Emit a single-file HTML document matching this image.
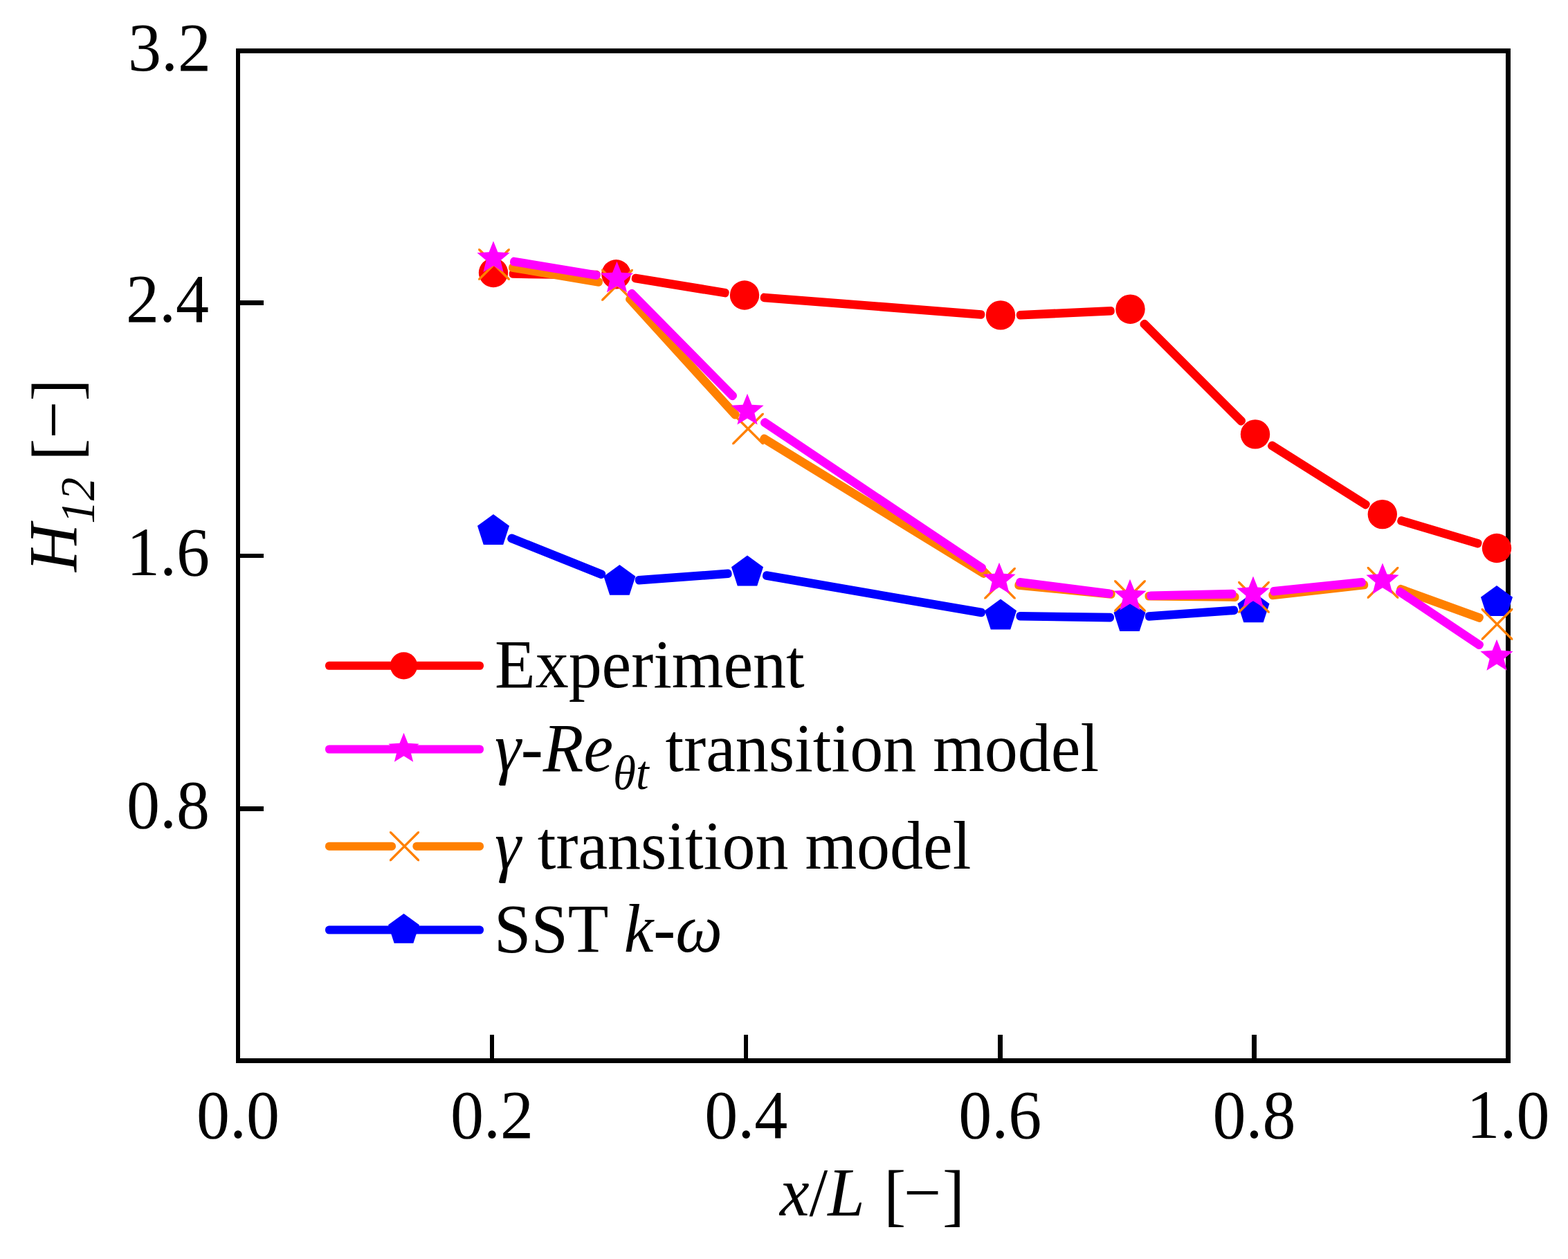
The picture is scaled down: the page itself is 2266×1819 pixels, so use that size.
<!DOCTYPE html>
<html><head><meta charset="utf-8"><title>H12 vs x/L</title>
<style>html,body{margin:0;padding:0;background:#fff;width:2266px;height:1819px;overflow:hidden}svg{display:block}</style>
</head><body>
<svg width="2266" height="1819" viewBox="0 0 2266 1819"><defs><clipPath id="c0"><rect x="691.2" y="359.2" width="45.6" height="45.6"/></clipPath><clipPath id="c1"><rect x="869.2" y="389.1" width="45.6" height="45.6"/></clipPath><clipPath id="c2"><rect x="1058.2" y="596.7" width="45.6" height="45.6"/></clipPath><clipPath id="c3"><rect x="1422.2" y="820" width="45.6" height="45.6"/></clipPath><clipPath id="c4"><rect x="1610.2" y="838.2" width="45.6" height="45.6"/></clipPath><clipPath id="c5"><rect x="1789.2" y="840.1" width="45.6" height="45.6"/></clipPath><clipPath id="c6"><rect x="1975.7" y="819.1" width="45.6" height="45.6"/></clipPath><clipPath id="c7"><rect x="2140.7" y="879.1" width="45.6" height="45.6"/></clipPath><clipPath id="c8"><rect x="563" y="1201.2" width="43" height="43"/></clipPath></defs><rect width="2266" height="1819" fill="#fff"/><g fill="#000" shape-rendering="crispEdges"><rect x="341" y="70" width="6" height="1466"/><rect x="341" y="70" width="1842" height="7"/><rect x="2176" y="70" width="7" height="1466"/><rect x="341" y="1529" width="1842" height="7"/><rect x="708" y="1495" width="6" height="34"/><rect x="1075" y="1495" width="6" height="34"/><rect x="1442" y="1495" width="7" height="34"/><rect x="1809" y="1495" width="7" height="34"/><rect x="347" y="434" width="34" height="7"/><rect x="347" y="800" width="34" height="6"/><rect x="347" y="1165" width="34" height="7"/></g><g fill="#ff0000"><rect x="0" y="-6.3" width="131.81" height="12.6" rx="5.5" transform="translate(735.8 395.5) rotate(0.74)"/><rect x="0" y="-6.3" width="142.44" height="12.6" rx="5.5" transform="translate(912.9 401.16) rotate(9.24)"/><rect x="0" y="-6.3" width="325.53" height="12.6" rx="5.5" transform="translate(1098.73 429.48) rotate(4.47)"/><rect x="0" y="-6.3" width="142.1" height="12.6" rx="5.5" transform="translate(1468.78 455.54) rotate(-2.66)"/><rect x="0" y="-6.3" width="209.81" height="12.6" rx="5.5" transform="translate(1649.61 464.03) rotate(45.03)"/><rect x="0" y="-6.3" width="171.58" height="12.6" rx="5.5" transform="translate(1833.3 640.75) rotate(32.19)"/><rect x="0" y="-6.3" width="126.69" height="12.6" rx="5.5" transform="translate(2019.66 750.77) rotate(16.49)"/></g><g fill="#ff0000"><circle cx="713" cy="394" r="21.2"/><circle cx="890.4" cy="396.3" r="21.2"/><circle cx="1076" cy="426.5" r="21.2"/><circle cx="1446" cy="455.4" r="21.2"/><circle cx="1633.5" cy="446.7" r="21.2"/><circle cx="1814" cy="627.4" r="21.2"/><circle cx="1997.8" cy="743.1" r="21.2"/><circle cx="2163" cy="792" r="21.2"/></g><g fill="#0000ff"><rect x="0" y="-6.3" width="151.43" height="12.6" rx="5.5" transform="translate(733.89 775.65) rotate(21.79)"/><rect x="0" y="-6.3" width="140.09" height="12.6" rx="5.5" transform="translate(917.84 838.57) rotate(-4.15)"/><rect x="0" y="-6.3" width="326.38" height="12.6" rx="5.5" transform="translate(1102.17 830.62) rotate(9.77)"/><rect x="0" y="-6.3" width="141.52" height="12.6" rx="5.5" transform="translate(1468.5 890.13) rotate(0.83)"/><rect x="0" y="-6.3" width="134.46" height="12.6" rx="5.5" transform="translate(1654.94 890.9) rotate(-4.09)"/></g><path fill="#0000ff" d="M713,743.1 L736.02,759.82 L727.22,786.88 L698.78,786.88 L689.98,759.82ZM895.4,816 L918.42,832.72 L909.62,859.78 L881.18,859.78 L872.38,832.72ZM1080,802.6 L1103.02,819.32 L1094.22,846.38 L1065.78,846.38 L1056.98,819.32ZM1446,865.6 L1469.02,882.32 L1460.22,909.38 L1431.78,909.38 L1422.98,882.32ZM1632.5,868.3 L1655.52,885.02 L1646.72,912.08 L1618.28,912.08 L1609.48,885.02ZM1811.5,855.5 L1834.52,872.22 L1825.72,899.28 L1797.28,899.28 L1788.48,872.22ZM2163,846.1 L2186.02,862.82 L2177.22,889.88 L2148.78,889.88 L2139.98,862.82Z"/><g fill="#ff8000"><rect x="0" y="-6.3" width="137.49" height="12.6" rx="5.5" transform="translate(735.2 385.56) rotate(9.54)"/><rect x="0" y="-6.3" width="237.75" height="12.6" rx="5.5" transform="translate(906.47 427.8) rotate(47.69)"/><rect x="0" y="-6.3" width="384.03" height="12.6" rx="5.5" transform="translate(1099.33 630.74) rotate(31.53)"/><rect x="0" y="-6.3" width="145.88" height="12.6" rx="5.5" transform="translate(1466.4 844.87) rotate(5.53)"/><rect x="0" y="-6.3" width="136.01" height="12.6" rx="5.5" transform="translate(1654.5 861.23) rotate(0.61)"/><rect x="0" y="-6.3" width="144.68" height="12.6" rx="5.5" transform="translate(1833.36 860.49) rotate(-6.42)"/><rect x="0" y="-6.3" width="132.57" height="12.6" rx="5.5" transform="translate(2018.71 849.25) rotate(19.98)"/></g><g stroke="#ff8000" stroke-width="3.4" fill="none"><path clip-path="url(#c0)" d="M688.2 356.2L739.8 407.8M688.2 407.8L739.8 356.2"/><path clip-path="url(#c1)" d="M866.2 386.1L917.8 437.7M866.2 437.7L917.8 386.1"/><path clip-path="url(#c2)" d="M1055.2 593.7L1106.8 645.3M1055.2 645.3L1106.8 593.7"/><path clip-path="url(#c3)" d="M1419.2 817L1470.8 868.6M1419.2 868.6L1470.8 817"/><path clip-path="url(#c4)" d="M1607.2 835.2L1658.8 886.8M1607.2 886.8L1658.8 835.2"/><path clip-path="url(#c5)" d="M1786.2 837.1L1837.8 888.7M1786.2 888.7L1837.8 837.1"/><path clip-path="url(#c6)" d="M1972.7 816.1L2024.3 867.7M1972.7 867.7L2024.3 816.1"/><path clip-path="url(#c7)" d="M2137.7 876.1L2189.3 927.7M2137.7 927.7L2189.3 876.1"/></g><g fill="#ff00ff"><rect x="0" y="-6.3" width="131.92" height="12.6" rx="5.5" transform="translate(737.17 376.99) rotate(9.38)"/><rect x="0" y="-6.3" width="219.35" height="12.6" rx="5.5" transform="translate(908.71 419.94) rotate(45.38)"/><rect x="0" y="-6.3" width="389.21" height="12.6" rx="5.5" transform="translate(1100.35 607.14) rotate(33.84)"/><rect x="0" y="-6.3" width="141.52" height="12.6" rx="5.5" transform="translate(1468.3 840.59) rotate(7.24)"/><rect x="0" y="-6.3" width="129.05" height="12.6" rx="5.5" transform="translate(1657.49 860.94) rotate(-1.32)"/><rect x="0" y="-6.3" width="138.97" height="12.6" rx="5.5" transform="translate(1835.37 854.91) rotate(-5.83)"/><rect x="0" y="-6.3" width="149.47" height="12.6" rx="5.5" transform="translate(2018.37 851.92) rotate(33.76)"/></g><path fill="#ff00ff" d="M713,348.2 L719.41,364.17 L736.59,365.34 L723.38,376.37 L727.58,393.06 L713,383.91 L698.42,393.06 L702.62,376.37 L689.41,365.34 L706.59,364.17ZM891.5,377.7 L897.91,393.67 L915.09,394.84 L901.88,405.87 L906.08,422.56 L891.5,413.41 L876.92,422.56 L881.12,405.87 L867.91,394.84 L885.09,393.67ZM1080,568.7 L1086.41,584.67 L1103.59,585.84 L1090.38,596.87 L1094.58,613.56 L1080,604.41 L1065.42,613.56 L1069.62,596.87 L1056.41,585.84 L1073.59,584.67ZM1444,812.7 L1450.41,828.67 L1467.59,829.84 L1454.38,840.87 L1458.58,857.56 L1444,848.41 L1429.42,857.56 L1433.62,840.87 L1420.41,829.84 L1437.59,828.67ZM1633,836.7 L1639.41,852.67 L1656.59,853.84 L1643.38,864.87 L1647.58,881.56 L1633,872.41 L1618.42,881.56 L1622.62,864.87 L1609.41,853.84 L1626.59,852.67ZM1811,832.6 L1817.41,848.57 L1834.59,849.74 L1821.38,860.77 L1825.58,877.46 L1811,868.31 L1796.42,877.46 L1800.62,860.77 L1787.41,849.74 L1804.59,848.57ZM1998,813.5 L2004.41,829.47 L2021.59,830.64 L2008.38,841.67 L2012.58,858.36 L1998,849.21 L1983.42,858.36 L1987.62,841.67 L1974.41,830.64 L1991.59,829.47ZM2163,923.8 L2169.41,939.77 L2186.59,940.94 L2173.38,951.97 L2177.58,968.66 L2163,959.51 L2148.42,968.66 L2152.62,951.97 L2139.41,940.94 L2156.59,939.77Z"/><rect x="470" y="955.8" width="229" height="12" rx="5.5" fill="#ff0000"/><circle cx="583.5" cy="961.8" r="19.6" fill="#ff0000"/><rect x="470" y="1076.5" width="229" height="12" rx="5.5" fill="#ff00ff"/><path fill="#ff00ff" d="M583.5,1058.8 L589.5,1073.74 L605.56,1074.83 L593.21,1085.15 L597.14,1100.77 L583.5,1092.21 L569.86,1100.77 L573.79,1085.15 L561.44,1074.83 L577.5,1073.74Z"/><rect x="470" y="1216.7" width="102" height="12" rx="5.5" fill="#ff8000"/><rect x="596.4" y="1216.7" width="102.6" height="12" rx="5.5" fill="#ff8000"/><g stroke="#ff8000" stroke-width="3.4" fill="none"><path clip-path="url(#c8)" d="M560 1198.2L609 1247.2M560 1247.2L609 1198.2"/></g><rect x="470" y="1337.6" width="229" height="12" rx="5.5" fill="#0000ff"/><path fill="#0000ff" d="M583.5,1320 L605.94,1336.31 L597.37,1362.69 L569.63,1362.69 L561.06,1336.31Z"/><g font-family="'Liberation Serif', 'Times New Roman', serif" font-size="96" fill="#000"><text transform="translate(305 102.3) scale(1 1.03)" text-anchor="end">3.2</text><text transform="translate(302 465) scale(1 1.03)" text-anchor="end">2.4</text><text transform="translate(303 831) scale(1 1.03)" text-anchor="end">1.6</text><text transform="translate(303 1195.5) scale(1 1.03)" text-anchor="end">0.8</text><text transform="translate(344 1644.3) scale(1 1.03)" text-anchor="middle">0.0</text><text transform="translate(711.1 1644.3) scale(1 1.03)" text-anchor="middle">0.2</text><text transform="translate(1078.2 1644.3) scale(1 1.03)" text-anchor="middle">0.4</text><text transform="translate(1445.3 1644.3) scale(1 1.03)" text-anchor="middle">0.6</text><text transform="translate(1812.4 1644.3) scale(1 1.03)" text-anchor="middle">0.8</text><text transform="translate(2179.5 1644.3) scale(1 1.03)" text-anchor="middle">1.0</text><text transform="translate(1127 1755.7) scale(1 1.03)"><tspan font-style="italic">x</tspan>/<tspan font-style="italic">L</tspan> <tspan dx="3.5" dy="4.2">[</tspan><tspan dx="-3.2" dy="-4.2">−</tspan><tspan dx="2" dy="4.2">]</tspan></text><text transform="translate(110 826) rotate(-90) scale(1 1.03)"><tspan font-style="italic">H</tspan><tspan font-style="italic" font-size="67" dy="25.6">12</tspan><tspan dy="-25.6"> </tspan><tspan dy="4.5">[</tspan><tspan dy="-4.5">−</tspan><tspan dy="4.5">]</tspan></text><text transform="translate(715 993) scale(1 1.03)">Experiment</text><text transform="translate(715 1113.5) scale(1 1.03)"><tspan font-style="italic">γ</tspan>-<tspan font-style="italic">Re</tspan><tspan font-style="italic" font-size="67" dy="25.5">θt</tspan><tspan dy="-25.5"> transition model</tspan></text><text transform="translate(715 1254.7) scale(1 1.03)"><tspan font-style="italic">γ</tspan> transition model</text><text transform="translate(714 1375) scale(1 1.03)">SST <tspan font-style="italic">k</tspan>-<tspan font-style="italic">ω</tspan></text></g></svg>
</body></html>
